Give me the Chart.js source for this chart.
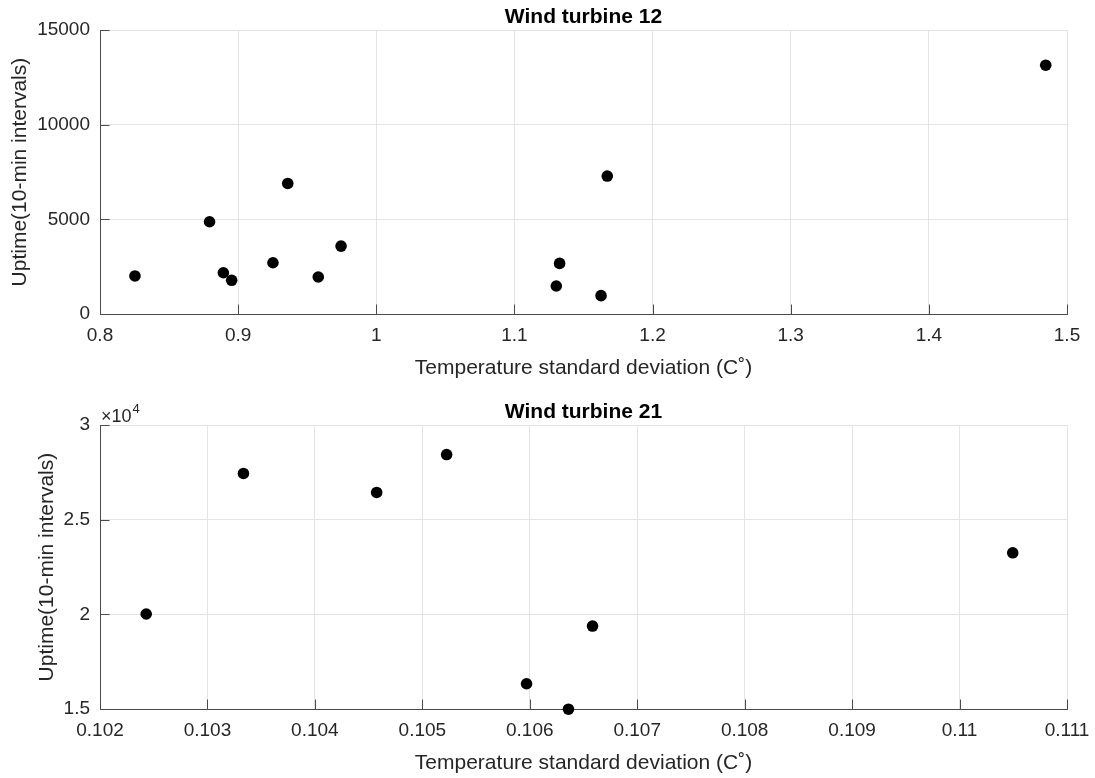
<!DOCTYPE html>
<html>
<head>
<meta charset="utf-8">
<script src="https://cdn.jsdelivr.net/npm/chart.js@4.4.1/dist/chart.umd.min.js"></script>
<style>
  html, body { margin: 0; padding: 0; background: #fff; }
  .panel { position: absolute; left: 0; width: 1095px; height: 381px; }
</style>
</head>
<body>
<div class="panel" style="top:0"><canvas id="wt12" width="1095" height="381"></canvas></div>
<div class="panel" style="top:395px"><canvas id="wt21" width="1095" height="381"></canvas></div>
<script>
// Wind turbine 12
const wt12X = [0.8253, 0.8793, 0.8893, 0.8953, 0.9252, 0.9359, 0.9580, 0.9745, 1.1303, 1.1327, 1.1627, 1.1672, 1.4846];
const wt12Y = [2010, 4875, 2180, 1780, 2710, 6900, 1955, 3590, 1480, 2675, 970, 7290, 13150];
const wt12XTicks = [0.8, 0.9, 1, 1.1, 1.2, 1.3, 1.4, 1.5];
const wt12YTicks = [0, 5000, 10000, 15000];

// Wind turbine 21
const wt21X = [0.10243, 0.103335, 0.104575, 0.105226, 0.10597, 0.10636, 0.106584, 0.110495];
const wt21Y = [20020, 27450, 26445, 28450, 16335, 14990, 19385, 23255];
const wt21XTicks = [0.102, 0.103, 0.104, 0.105, 0.106, 0.107, 0.108, 0.109, 0.11, 0.111];
const wt21YTicks = [15000, 20000, 25000, 30000];

const FONT = "'Liberation Sans', Arial, Helvetica, sans-serif";
const textColor = '#262626';
const axisColor = '#4a4a4a';
const gridColor = '#e4e4e4';

// MATLAB style inward tick marks
const inwardTicks = {
  id: 'inwardTicks',
  beforeDatasetsDraw(chart) {
    const {ctx, chartArea: a, scales: {x, y}} = chart;
    ctx.save();
    ctx.strokeStyle = axisColor;
    ctx.lineWidth = 1;
    ctx.beginPath();
    x.ticks.forEach(t => {
      const px = Math.round(x.getPixelForValue(t.value)) + 0.5;
      ctx.moveTo(px, a.bottom);
      ctx.lineTo(px, a.bottom - 9.5);
    });
    y.ticks.forEach(t => {
      const py = Math.round(y.getPixelForValue(t.value)) + 0.5;
      ctx.moveTo(a.left, py);
      ctx.lineTo(a.left + 9.5, py);
    });
    ctx.stroke();
    ctx.restore();
  }
};

// "x10^4" exponent above the y axis
const expLabel = {
  id: 'expLabel',
  afterDraw(chart, args, opts) {
    if (!opts.power) return;
    const {ctx, chartArea: a} = chart;
    ctx.save();
    ctx.fillStyle = textColor;
    ctx.textAlign = 'left';
    ctx.textBaseline = 'alphabetic';
    ctx.font = '18px ' + FONT;
    const base = '\u00d710';
    ctx.fillText(base, a.left + 1, a.top - 3.5);
    const w = ctx.measureText(base).width;
    ctx.font = '13px ' + FONT;
    ctx.fillText(opts.power, a.left + 1 + w + 1, a.top - 12);
    ctx.restore();
  }
};

function makeChart(id, title, xs, ys, xTicks, yTicks, yFmt, yTitlePad, power) {
  const pts = xs.map((v, i) => ({x: v, y: ys[i]}));
  return new Chart(document.getElementById(id), {
    type: 'scatter',
    data: {
      datasets: [{
        data: pts,
        backgroundColor: '#000',
        borderWidth: 0,
        pointRadius: 5.8,
        pointHoverRadius: 5.8,
        clip: false
      }]
    },
    options: {
      responsive: false,
      animation: false,
      devicePixelRatio: 1,
      events: [],
      layout: { padding: { left: 0, right: 28, top: 0, bottom: 0 } },
      plugins: {
        legend: { display: false },
        tooltip: { enabled: false },
        title: {
          display: true,
          fullSize: false,
          text: title,
          color: '#000',
          font: { family: FONT, size: 21, weight: 'bold' },
          padding: { top: 5, bottom: 0 }
        },
        expLabel: { power: power }
      },
      scales: {
        x: {
          type: 'linear',
          min: xTicks[0],
          max: xTicks[xTicks.length - 1],
          afterBuildTicks: s => { s.ticks = xTicks.map(v => ({value: v})); },
          afterFit: s => { s.height = 67; s.paddingLeft = 0; s.paddingRight = 0; },
          grid: { color: gridColor, drawTicks: false },
          border: { display: true, color: axisColor, width: 1 },
          ticks: {
            autoSkip: false, maxRotation: 0, minRotation: 0,
            padding: 10, color: textColor,
            font: { family: FONT, size: 19 },
            callback: v => String(v)
          },
          title: {
            display: true,
            text: 'Temperature standard deviation (C\u02da)',
            color: textColor,
            font: { family: FONT, size: 21 },
            padding: { top: 0, bottom: 0 }
          }
        },
        y: {
          type: 'linear',
          min: yTicks[0],
          max: yTicks[yTicks.length - 1],
          afterBuildTicks: s => { s.ticks = yTicks.map(v => ({value: v})); },
          afterFit: s => { s.width = 100; },
          grid: { color: gridColor, drawTicks: false },
          border: { display: true, color: axisColor, width: 1 },
          ticks: {
            autoSkip: false, padding: 10, color: textColor,
            font: { family: FONT, size: 19 },
            callback: yFmt
          },
          title: {
            display: true,
            text: 'Uptime(10-min intervals)',
            color: textColor,
            font: { family: FONT, size: 21 },
            padding: { top: yTitlePad, bottom: 0 }
          }
        }
      }
    },
    plugins: [inwardTicks, expLabel]
  });
}

makeChart('wt12', 'Wind turbine 12', wt12X, wt12Y, wt12XTicks, wt12YTicks, v => String(v), 7.6, null);
makeChart('wt21', 'Wind turbine 21', wt21X, wt21Y, wt21XTicks, wt21YTicks, v => String(v / 1e4), 34.2, '4');
</script>
</body>
</html>
